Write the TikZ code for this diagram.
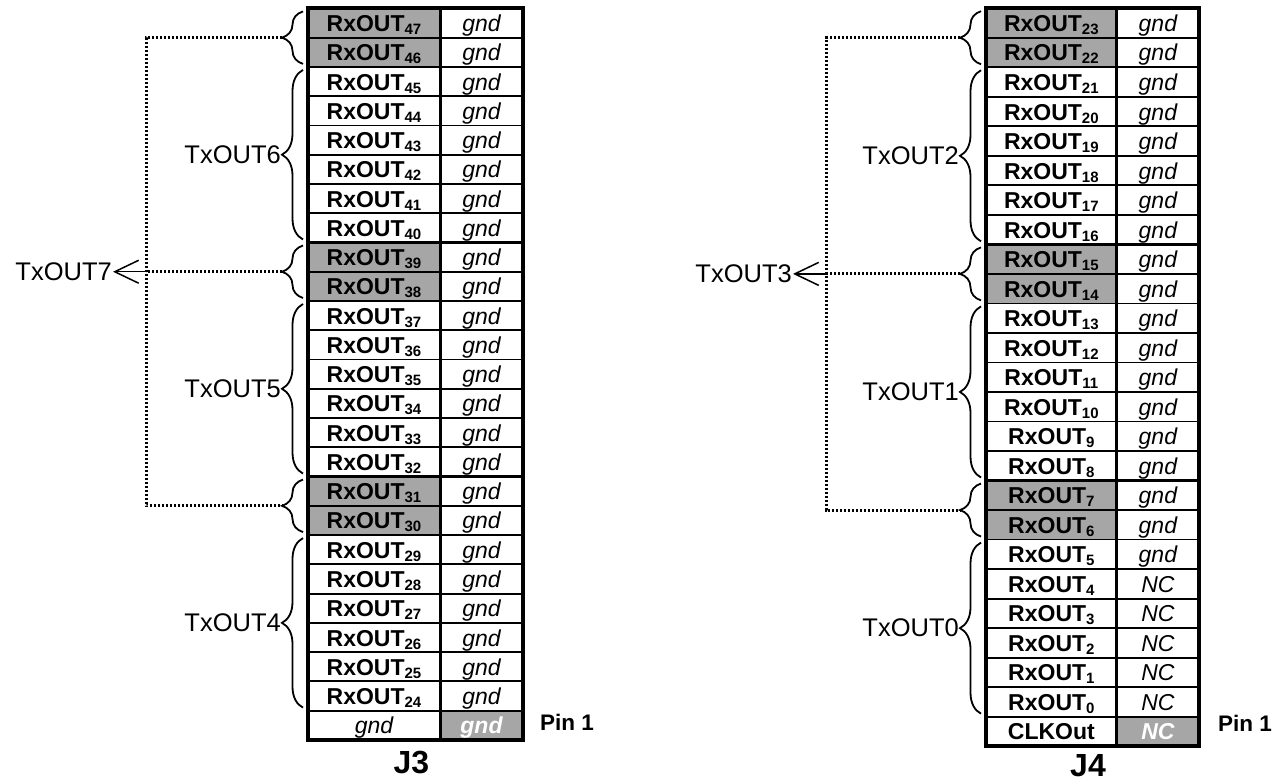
\documentclass[tikz,border=0pt]{standalone}
\usepackage{fontspec}
\setmainfont{Liberation Sans}
\usetikzlibrary{decorations.pathreplacing,arrows.meta,calc}
\definecolor{cellgray}{RGB}{166,166,166}
\newcommand\rxo[1]{RxOUT\raisebox{-3pt}{\fontsize{15}{15}\selectfont #1}}
\begin{document}
\begin{tikzpicture}[x=1pt,y=-1pt]
\tikzset{
 cellbase/.style={draw=black,line width=1.8pt,inner sep=0pt,outer sep=0pt,text height=17pt,text depth=0pt},
 c3l/.style={cellbase,minimum width=132pt,minimum height=29.26pt},
 c3r/.style={cellbase,minimum width=83pt,minimum height=29.26pt},
 c4l/.style={cellbase,minimum width=130.7pt,minimum height=29.52pt},
 c4r/.style={cellbase,minimum width=82.3pt,minimum height=29.52pt},
 rx/.style={font=\fontsize{23}{25}\selectfont\bfseries},
 gn/.style={font=\fontsize{23}{25}\selectfont\itshape},
 pinone/.style={fill=cellgray,text=white,font=\fontsize{23}{25}\selectfont\bfseries\itshape},
 tx/.style={font=\fontsize{25.5}{28}\selectfont,inner sep=1pt,anchor=east},
 brc/.style={decorate,decoration={brace,amplitude=21pt},line width=1.8pt},
 dotline/.style={line width=3pt,dash pattern=on 2.4pt off 1.6pt},
 arr/.style={line width=1.5pt,-{Straight Barb[length=24pt,width=23pt]}},
 jlab/.style={font=\fontsize{32}{34}\selectfont\bfseries,inner sep=0pt},
 pinlab/.style={font=\fontsize{22.5}{24}\selectfont\bfseries,anchor=west,inner sep=0pt},
 outer/.style={line width=4pt},
 divline/.style={line width=3pt},
 grpline/.style={line width=3.5pt}
}
\useasboundingbox (0,0) rectangle (1285,782);

% ---------- J3 ----------
\foreach \r in {0,...,23}{
  \pgfmathtruncatemacro\n{47-\r}
  \pgfmathsetmacro\yy{8.4+29.26*(\r+0.5)}
  \pgfmathtruncatemacro\g{mod(\r,8)}
  \ifnum\g<2 \def\fc{cellgray}\else\def\fc{white}\fi
  \node[c3l,rx,fill=\fc] (L3-\r) at (374,\yy) {\rxo{\n}};
  \node[c3r,gn,fill=white] (R3-\r) at (481.5,\yy) {gnd};
}
\node[c3l,gn,fill=white] (L3-24) at (374,{8.4+29.26*24.5}) {gnd};
\node[c3r,pinone] (R3-24) at (481.5,{8.4+29.26*24.5}) {gnd};
\draw[outer] (L3-0.north west) rectangle (R3-24.south east);
\draw[divline] (L3-0.north east) -- (L3-24.south east);
\foreach \r in {8,16} \draw[grpline] (L3-\r.north west) -- (R3-\r.north east);

% ---------- J4 ----------
\foreach \r in {0,...,23}{
  \pgfmathtruncatemacro\n{23-\r}
  \pgfmathsetmacro\yy{8.2+29.52*(\r+0.5)}
  \pgfmathtruncatemacro\g{mod(\r,8)}
  \ifnum\g<2 \def\fc{cellgray}\else\def\fc{white}\fi
  \ifnum\r>18 \def\rt{NC}\else\def\rt{gnd}\fi
  \node[c4l,rx,fill=\fc] (L4-\r) at (1051.35,\yy) {\rxo{\n}};
  \node[c4r,gn,fill=white] (R4-\r) at (1157.85,\yy) {\rt};
}
\node[c4l,rx,fill=white] (L4-24) at (1051.35,{8.2+29.52*24.5}) {CLKOut};
\node[c4r,pinone] (R4-24) at (1157.85,{8.2+29.52*24.5}) {NC};
\draw[outer] (L4-0.north west) rectangle (R4-24.south east);
\draw[divline] (L4-0.north east) -- (L4-24.south east);
\foreach \r in {8,16} \draw[grpline] (L4-\r.north west) -- (R4-\r.north east);

% ---------- braces J3 ----------
\foreach \a/\b/\nm in {0/1/a,8/9/b,16/17/c,2/7/d,10/15/e,18/23/f}{
  \draw[brc] ($(L3-\b.south west)+(-5,-3)$) -- ($(L3-\a.north west)+(-5,3)$);
  \coordinate (p3\nm) at ($(L3-\a.north west)!0.5!(L3-\b.south west)+(-26,0)$);
}
% ---------- braces J4 ----------
\foreach \a/\b/\nm in {0/1/a,8/9/b,16/17/c,2/7/d,10/15/e,18/23/f}{
  \draw[brc] ($(L4-\b.south west)+(-5,-3)$) -- ($(L4-\a.north west)+(-5,3)$);
  \coordinate (p4\nm) at ($(L4-\a.north west)!0.5!(L4-\b.south west)+(-26,0)$);
}

% ---------- group labels ----------
\node[tx] (T6) at (p3d) {TxOUT6};
\node[tx] (T5) at (p3e) {TxOUT5};
\node[tx] (T4) at (p3f) {TxOUT4};
\node[tx] (T2) at (p4d) {TxOUT2};
\node[tx] (T1) at (p4e) {TxOUT1};
\node[tx] (T0) at (p4f) {TxOUT0};

% ---------- dotted connectors ----------
\coordinate (v3) at (146,0);
\coordinate (v4) at (826,0);
\draw[dotline] (p3a) -- (p3a -| v3) |- (p3c);
\draw[dotline] (p3b) -- (p3b -| v3);
\node[tx] (T7) at ($(p3b -| v3)+(-33,0)$) {TxOUT7};
\draw[arr] (p3b -| v3) -- (T7.east);

\draw[dotline] (p4a) -- (p4a -| v4) |- (p4c);
\draw[dotline] (p4b) -- (p4b -| v4);
\node[tx] (T3) at ($(p4b -| v4)+(-33,0)$) {TxOUT3};
\draw[arr] (p4b -| v4) -- (T3.east);

% ---------- labels ----------
\node[jlab] (J3) at (411.5,762) {J3};
\node[jlab] (J4) at (1088,766) {J4};
\node[pinlab] (P3) at (540,722) {Pin 1};
\node[pinlab] (P4) at (1218,723) {Pin 1};
\end{tikzpicture}
\end{document}
